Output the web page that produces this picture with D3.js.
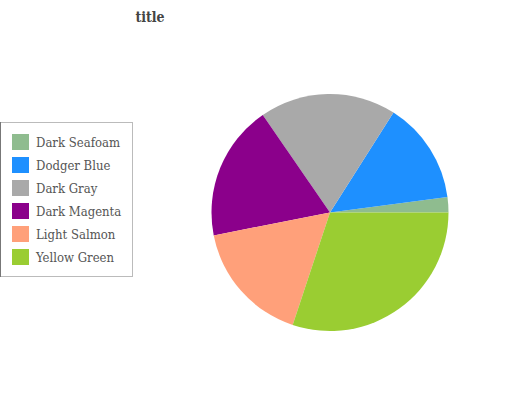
<!DOCTYPE html>
<html>
<head>
<meta charset="utf-8">
<script src="https://cdn.jsdelivr.net/npm/d3@7"></script>
<style>
  body { margin: 0; background: #fff; }
  text { font-family: "DejaVu Serif Condensed", "DejaVu Serif", serif; }
</style>
</head>
<body>
<div class="graph"></div>
<script>
// chart data
var categories = ["Dark Seafoam", "Dodger Blue", "Dark Gray", "Dark Magenta", "Light Salmon", "Yellow Green"];
var values = [2.1, 13.9, 18.6, 18.5, 16.8, 30.1];
var colors = ["#8fbc8f", "#1e90ff", "#a9a9a9", "#8b008b", "#ffa07a", "#9acd32"];

var width = 532, height = 400;
var cx = 330, cy = 212.5, radius = 118.5;

var svg = d3.select(".graph").append("svg")
    .attr("width", width)
    .attr("height", height);

// title
svg.append("text")
    .attr("x", 150)
    .attr("y", 22)
    .attr("text-anchor", "middle")
    .style("font-size", "14px")
    .style("font-weight", "bold")
    .style("fill", "#444")
    .text("title");

// pie goes counter-clockwise starting at 3 o'clock
var pie = d3.pie()
    .sort(null)
    .startAngle(Math.PI / 2)
    .endAngle(Math.PI / 2 - 2 * Math.PI);

var arc = d3.arc().innerRadius(0).outerRadius(radius);

var color = d3.scaleOrdinal().domain(categories).range(colors);

var data = categories.map(function(c, i) { return {name: c, value: values[i]}; });

svg.append("g")
    .attr("transform", "translate(" + cx + "," + cy + ")")
  .selectAll("path")
    .data(pie.value(function(d) { return d.value; })(data))
    .enter().append("path")
    .attr("d", arc)
    .style("fill", function(d) { return color(d.data.name); });

// legend
var legend = svg.append("g");

legend.append("rect")
    .attr("x", 0.5)
    .attr("y", 122.5)
    .attr("width", 132)
    .attr("height", 154)
    .style("fill", "#fff")
    .style("stroke", "#bbb");

legend.append("line")
    .attr("x1", 0.5).attr("x2", 0.5)
    .attr("y1", 122).attr("y2", 277)
    .style("stroke", "#777");

var row = d3.scaleBand().domain(categories).range([130, 268]);

var items = legend.selectAll("g.item")
    .data(categories)
    .enter().append("g")
    .attr("class", "item")
    .attr("transform", function(d) { return "translate(0," + row(d) + ")"; });

items.append("rect")
    .attr("x", 12)
    .attr("y", 4)
    .attr("width", 17)
    .attr("height", 16)
    .style("fill", function(d) { return color(d); });

items.append("text")
    .attr("x", 36)
    .attr("y", 17)
    .style("font-size", "13px")
    .style("fill", "#555")
    .text(function(d) { return d; });
</script>
</body>
</html>
